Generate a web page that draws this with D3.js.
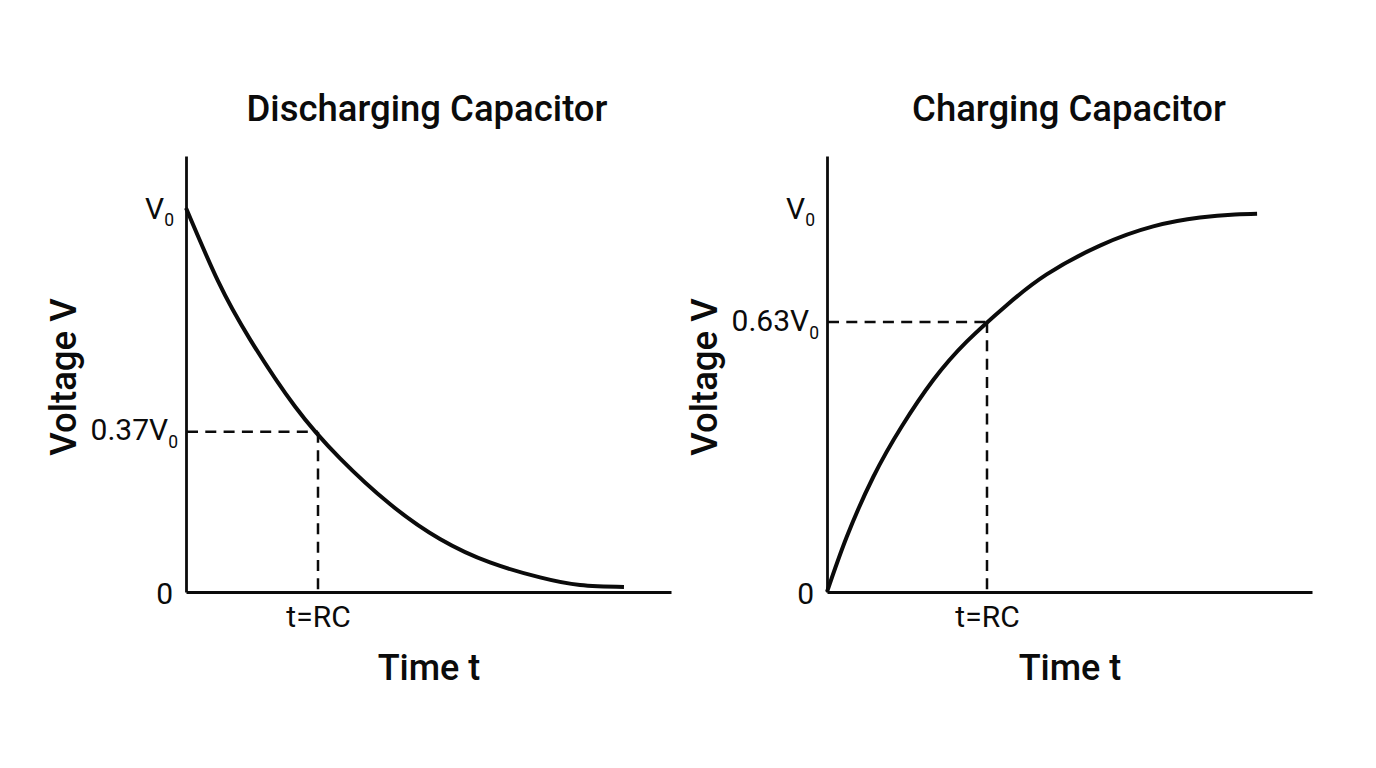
<!DOCTYPE html>
<html><head><meta charset="utf-8">
<script src="https://cdn.jsdelivr.net/npm/d3@7/dist/d3.min.js"></script>
<style>html,body{margin:0;padding:0;background:#fff}svg{display:block}text{font-family:Roboto,sans-serif;fill:#0b0b0b}</style>
</head><body><svg id="c" width="1376" height="768"></svg>
<script>
const dischargeT = [0,.242,.485,.826,1.167,1.545,1.924,2.303,2.682,2.985,3.318];
const dischargeV = [1,.81,.658,.483,.348,.229,.138,.077,.038,.018,.013];
const chargeT = [0,.123,.289,.467,.664,.873,1.123,1.373,1.706,2.039,2.331,2.55,2.688];
const chargeV = [0,.143,.2995,.431,.552,.652,.747,.827,.902,.952,.975,.983,.985];
const titles = ["Discharging Capacitor","Charging Capacitor"];
const yTicksLeft = [0,.417,1];
const yTickMainLeft = ["0","0.37V","V"];
const yTicksRight = [0,.703,1];
const yTickMainRight = ["0","0.63V","V"];
const xTickLabel = "t=RC";
const xAxisTitle = "Time t";
const yAxisTitle = "Voltage V";

const svg = d3.select("#c");
const INK = "#0b0b0b";
function panel(o){
  const x = d3.scaleLinear().domain([0,o.xMax]).range([o.x0,o.x0+485]);
  const y = d3.scaleLinear().domain([0,436/384]).range([592,156]);
  const g = svg.append("g");
  const line = d3.line().x(d=>x(d[0])).y(d=>y(d[1])).curve(d3.curveNatural);
  const pts = d3.zip(o.t,o.v);
  const mark = o.yTicks[1];
  const dash = s=>s.attr("fill","none").attr("stroke",INK).attr("stroke-width",2.5).attr("stroke-dasharray","11,7.3");
  g.append("path").attr("d",d3.line()([[x(0)+1,y(mark)],[x(1),y(mark)]])).call(dash);
  g.append("path").attr("d",d3.line()([[x(1),y(mark)],[x(1),y(0)]])).call(dash);
  const ax = d3.axisBottom(x).tickValues([1]).tickSize(0).tickPadding(0).tickFormat(()=>xTickLabel);
  const ay = d3.axisLeft(y).tickValues(o.yTicks).tickSize(0).tickPadding(0).tickFormat((d,i)=>o.yMain[i]);
  const gx = g.append("g").attr("transform","translate(0,592)").call(ax);
  const gy = g.append("g").attr("transform",`translate(${o.x0},0)`).call(ay);
  [gx,gy].forEach(a=>{a.attr("font-size",null).attr("font-family",null);a.select(".domain").attr("stroke",INK).attr("stroke-width",2.8);});
  gx.selectAll("text").attr("dy",null).attr("y",35).attr("font-size",30).attr("text-anchor","middle").attr("fill",INK);
  gy.selectAll("text").attr("dy",null).attr("font-size",30).attr("text-anchor","end").attr("fill",INK)
    .each(function(d,i){
      const t = d3.select(this), hasSub = i>0;
      const right = i===0 ? -13 : i===1 ? -8 : -12;
      const base = i===0 ? 11 : i===1 ? 8 : 10;
      t.attr("x",right).attr("y",base);
      if(hasSub){
        t.append("tspan").attr("font-size",17.5).attr("dy",i===1?8:7).text("0");
      }
    });
  g.append("path").datum(pts).attr("d",line).attr("fill","none").attr("stroke",INK).attr("stroke-width",4);
  g.append("text").attr("x",o.titleX).attr("y",121).attr("text-anchor","middle").attr("font-size",36.5).attr("font-weight",500).text(o.title);
  g.append("text").attr("x",o.x0+243).attr("y",680).attr("text-anchor","middle").attr("font-size",36).attr("font-weight",500).text(xAxisTitle);
  g.append("text").attr("transform",`translate(${o.x0-110},377) rotate(-90)`).attr("text-anchor","middle").attr("font-size",36.5).attr("font-weight",500).text(yAxisTitle);
}
panel({x0:186,xMax:485/132,t:dischargeT,v:dischargeV,yTicks:yTicksLeft,yMain:yTickMainLeft,title:titles[0],titleX:427});
panel({x0:827,xMax:485/160,t:chargeT,v:chargeV,yTicks:yTicksRight,yMain:yTickMainRight,title:titles[1],titleX:1069});
</script></body></html>
